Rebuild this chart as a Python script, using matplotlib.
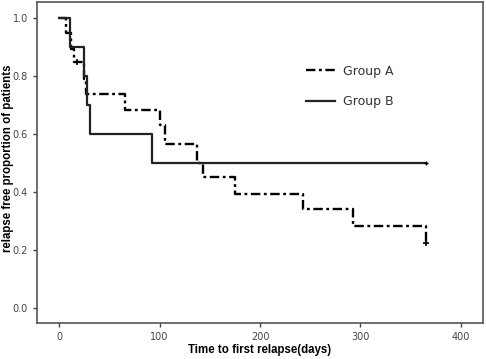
import matplotlib
matplotlib.use("Agg")
import matplotlib.pyplot as plt

# Group A (dash-dot)
a_times = [0, 7, 12, 15, 25, 27, 66, 100, 105, 137, 143, 175, 243, 293, 365]
a_surv = [1.0, 0.947, 0.895, 0.848, 0.79, 0.737, 0.684, 0.632, 0.565, 0.50, 0.453, 0.395, 0.341, 0.283, 0.226]
a_cens_t = [18, 365]
a_cens_s = [0.848, 0.226]

# Group B (solid)
b_times = [0, 11, 25, 28, 31, 93, 365]
b_surv = [1.0, 0.9, 0.8, 0.7, 0.6, 0.5, 0.5]
b_cens_t = [365]
b_cens_s = [0.5]

x_ticks = [0, 100, 200, 300, 400]
y_ticks = [0.0, 0.2, 0.4, 0.6, 0.8, 1.0]

fig = plt.figure(figsize=(4.86, 3.59), dpi=100)
ax = fig.add_axes([0.076, 0.100, 0.918, 0.894])

ax.step(a_times, a_surv, where='post', color='black', lw=1.7,
        linestyle=(0, (4, 1.5, 1.2, 1.5)), label='Group A')
ax.step(b_times, b_surv, where='post', color='#222222', lw=1.6,
        linestyle='-', label='Group B')
ax.plot(a_cens_t, a_cens_s, linestyle='none', marker='+', color='black', ms=5, mew=1.2)
ax.plot(b_cens_t, b_cens_s, linestyle='none', marker='+', color='black', ms=3, mew=1.0)

ax.set_xlim(-22, 422)
ax.set_ylim(-0.052, 1.055)
ax.set_xticks(x_ticks)
ax.set_yticks(y_ticks)
ax.set_yticklabels([f"{v:.1f}" for v in y_ticks])
ax.tick_params(direction='out', length=3, width=1, labelsize=7, labelcolor='#444444', color='#444444')
for s in ax.spines.values():
    s.set_color('#555555')
    s.set_linewidth(1.2)

lab_font = dict(fontsize=8.3, fontweight='bold', family=['Liberation Sans', 'DejaVu Sans'])
ax.set_xlabel('Time to first relapse(days)', **lab_font)
ax.set_ylabel('relapse free proportion of patients', **lab_font)
ax.xaxis.set_label_coords((260 - 37) / 446, (323 - 344) / 321)
ax.yaxis.set_label_coords((14 - 37) / 446, (323 - 158) / 321)

leg = ax.legend(loc='upper left', bbox_to_anchor=(0.578, 0.84), frameon=False, fontsize=9,
                handlelength=2.3, labelspacing=1.4, handletextpad=0.65)
for t in leg.get_texts():
    t.set_color('#333333')

fig.savefig('out.png', dpi=100)
